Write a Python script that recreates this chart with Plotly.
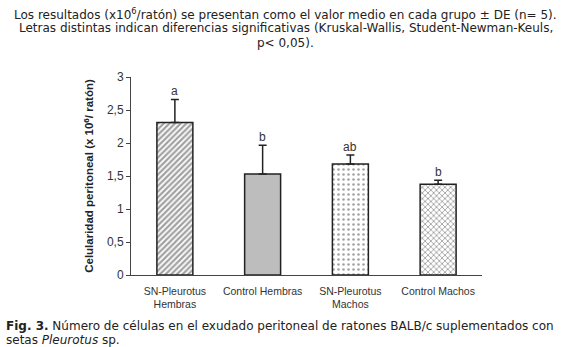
import plotly.graph_objects as go

categories = ["SN-Pleurotus<br>Hembras", "Control Hembras", "SN-Pleurotus<br>Machos", "Control Machos"]
means = [2.31, 1.53, 1.68, 1.375]
sd = [0.35, 0.435, 0.14, 0.06]
letters = ["a", "b", "ab", "b"]
y_ticks = [0, 0.5, 1, 1.5, 2, 2.5, 3]

fig = go.Figure()
fig.add_trace(go.Bar(
    x=categories, y=means, width=0.41,
    marker=dict(
        color=["white", "#bdbdbd", "white", "white"],
        line=dict(color="#222222", width=1.5),
        pattern=dict(
            shape=["/", "", ".", "x"],
            fgcolor=["#000000", "#bdbdbd", "#9a9a9a", "#6a6a6a"],
            bgcolor=["white", "#bdbdbd", "white", "white"],
            size=[4, 8, 5, 4],
            solidity=[0.55, 0.2, 0.2, 0.4],
            fillmode="overlay",
        ),
    ),
    error_y=dict(type="data", array=sd, arrayminus=[0]*4, symmetric=False,
                 color="#222222", thickness=1.5, width=4),
    showlegend=False,
))

for c, m, s, l in zip(categories, means, sd, letters):
    fig.add_annotation(x=c, y=m + s, text=l, showarrow=False, yshift=8,
                       font=dict(family="Liberation Sans, Arial", size=12, color="#333333"))

fig.update_layout(
    width=571, height=347,
    margin=dict(l=131, r=89, t=77, b=72),
    paper_bgcolor="white", plot_bgcolor="white",
    separators=",.",
    bargap=0.59,
    xaxis=dict(range=[-0.5, 3.5], showline=True, linecolor="#444444", linewidth=1,
               ticks="outside", ticklen=6, tickcolor="rgba(0,0,0,0)", showgrid=False, zeroline=False,
               tickfont=dict(family="Liberation Sans, Arial", size=10.5, color="#333333")),
    yaxis=dict(range=[0, 3], tickvals=y_ticks, showline=True, linecolor="#444444", linewidth=1,
               ticks="outside", ticklen=4, tickcolor="#444444", showgrid=False, zeroline=False,
               tickfont=dict(family="Liberation Sans, Arial", size=12, color="#333333"),
               title=dict(text="<b>Celularidad peritoneal (x 10<sup>6</sup>/ ratón)</b>", standoff=10,
                          font=dict(family="Liberation Sans, Arial", size=11.5, color="#222222"))),
)

top_font = dict(family="DejaVu Sans, Verdana", size=12, color="#222222")
top_lines = [
    "Los resultados (x10<sup>6</sup>/ratón) se presentan como el valor medio en cada grupo ± DE (n= 5).",
    "Letras distintas indican diferencias significativas (Kruskal-Wallis, Student-Newman-Keuls,",
    "p< 0,05).",
]
for i, t in enumerate(top_lines):
    fig.add_annotation(xref="paper", yref="paper", x=(285.5-131)/351, y=1 + (77 - (14 + 14.5*i)) / 198,
                       text=t, showarrow=False, xanchor="center", yanchor="middle", font=top_font)

cap_lines = [
    "<b>Fig. 3.</b> Número de células en el exudado peritoneal de ratones BALB/c suplementados con",
    "setas <i>Pleurotus</i> sp.",
]
for i, t in enumerate(cap_lines):
    fig.add_annotation(xref="paper", yref="paper", x=(4-131)/351, y=-(326 + 14*i - 275) / 198,
                       text=t, showarrow=False, xanchor="left", yanchor="middle", font=top_font)

fig.write_html("out.html")
